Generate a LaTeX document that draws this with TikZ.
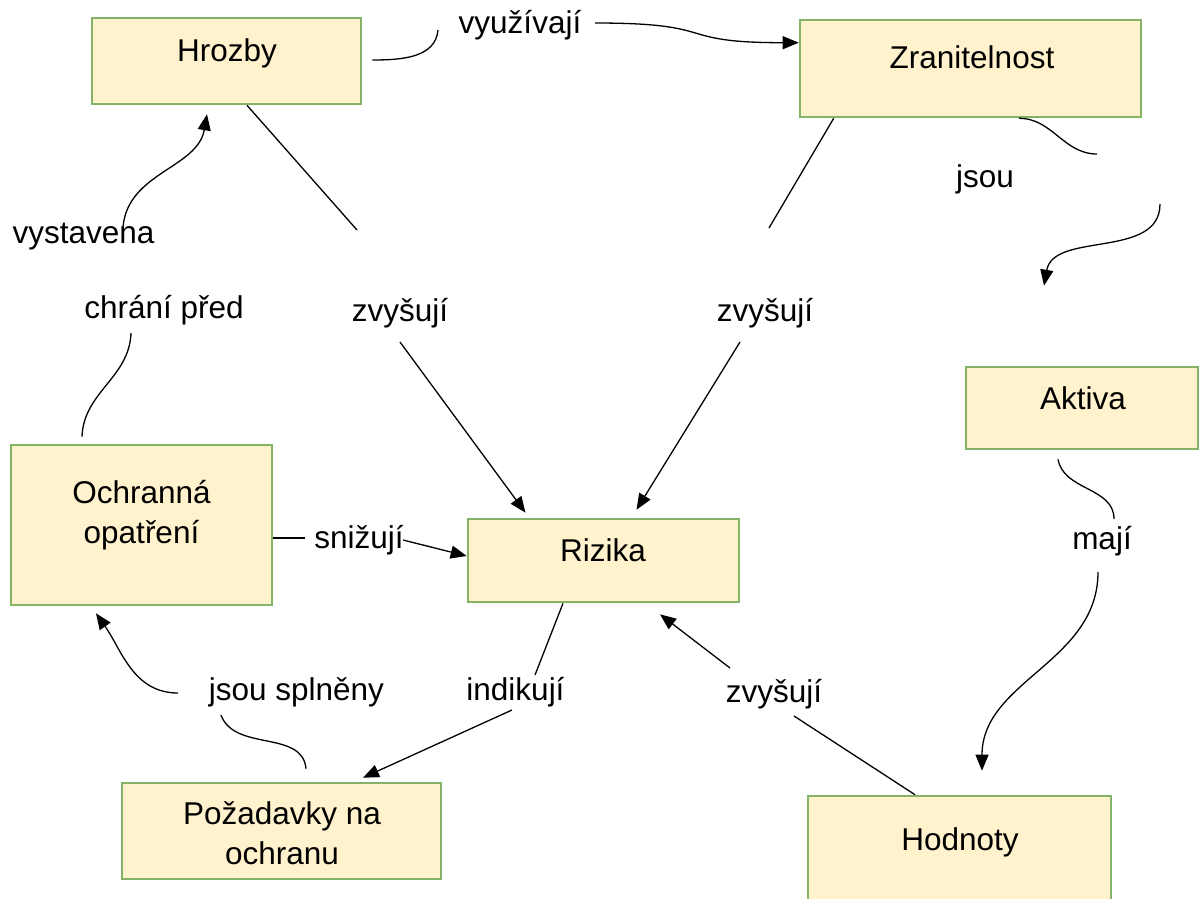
\documentclass[tikz,border=0pt]{standalone}
\usepackage{fontspec}
\setmainfont{Liberation Sans}
\usepackage{tikz}
\usetikzlibrary{arrows.meta, calc}
\definecolor{conceptfill}{HTML}{FFF2CC}
\definecolor{conceptline}{HTML}{82B366}
\tikzset{
  concept/.style={draw=conceptline, fill=conceptfill, line width=2.6pt, inner sep=0pt},
  word/.style={font=\fontsize{31.5}{40}\selectfont, inner sep=0pt, align=center},
  link/.style={line width=1.3pt},
  linkto/.style={link, -{Triangle[length=16pt, width=13pt]}}
}

\begin{document}
\begin{tikzpicture}[x=1pt, y=-1pt]
  \useasboundingbox (0,0) rectangle (1200,898);
  \clip (0,0) rectangle (1200,898);

  % Concept boxes
  \node[concept, minimum width=269pt, minimum height=86pt] (hrozby) at (226.5,61) {};
  \node[concept, minimum width=341pt, minimum height=97pt] (zran) at (970.5,68.5) {};
  \node[concept, minimum width=232pt, minimum height=82pt] (aktiva) at (1082,408) {};
  \node[concept, minimum width=261pt, minimum height=160pt] (ochr) at (141.5,525) {};
  \node[concept, minimum width=271pt, minimum height=83pt] (rizika) at (603.5,560.5) {};
  \node[concept, minimum width=319pt, minimum height=96pt] (pozad) at (281.5,831) {};
  \node[concept, minimum width=303pt, minimum height=160pt] (hodn) at (959.5,876) {};

  % Box texts
  \node[word, anchor=base] (hrozbyT) at (227,61) {Hrozby};
  \node[word, anchor=base] (zranT) at (972,68) {Zranitelnost};
  \node[word, anchor=base] (aktivaT) at (1083,409) {Aktiva};
  \node[word] (ochrT) at (141.5,515.5) {Ochranná\\opatření};
  \node[word, anchor=base] (rizikaT) at (603,561) {Rizika};
  \node[word] (pozadT) at (282,833) {Požadavky na\\ochranu};
  \node[word, anchor=base] (hodnT) at (960,850) {Hodnoty};

  % Link labels
  \node[word, anchor=base] (vyuz) at (520,33) {využívají};
  \node[word, anchor=base] (jsou) at (985,187) {jsou};
  \node[word, anchor=base] (zvysL) at (400,321) {zvyšují};
  \node[word, anchor=base] (zvysR) at (765,321) {zvyšují};
  \node[word, anchor=base] (vyst) at (83.5,243) {vystavena};
  \node[word, anchor=base] (chrani) at (164,318) {chrání před};
  \node[word, anchor=base] (sniz) at (359,548) {snižují};
  \node[word, anchor=base] (splneny) at (296.5,700) {jsou splněny};
  \node[word, anchor=base] (indik) at (515.5,700) {indikují};
  \node[word, anchor=base] (zvysB) at (774,702.5) {zvyšují};
  \node[word, anchor=base] (maji) at (1102,549) {mají};

  % Connectors
  \draw[link] ($(hrozby.east)+(10,-1)$) to[out=0, in=-95] ($(vyuz.base)+(-82,-3)$);
  \draw[linkto] ($(vyuz.base)+(75,-10)$) to[out=0, in=180, looseness=1.6] ($(zran.north west)+(0,24)$);
  \draw[link] ($(zran.south)+(48.5,0)$) to[out=0, in=180] ($(jsou.base)+(112,-33)$);
  \draw[linkto] ($(jsou.base)+(175,17)$) to[out=-90, in=80] ($(aktiva.north)+(-38,-80)$);
  \draw[link] ($(zran.south west)+(35,0)$) -- ($(zvysR.base)+(4,-93)$);
  \draw[linkto] ($(zvysR.base)+(-25,21)$) -- ($(rizika.north)+(33,-8)$);
  \draw[link] ($(hrozby.south)+(20.5,0)$) -- ($(zvysL.base)+(-43,-91)$);
  \draw[linkto] ($(zvysL.base)+(0,21)$) -- ($(rizika.north)+(-78,-5)$);
  \draw[linkto] ($(vyst.base)+(39.5,-16)$) to[out=85, in=-100] ($(hrozby.south)+(-19.5,9)$);
  \draw[link] ($(ochr.north)+(-59.5,-7)$) to[out=88, in=-92] ($(chrani.base)+(-33,15)$);
  \draw[link] ($(ochr.east)+(0,13)$) -- ($(sniz.base)+(-54,-10)$);
  \draw[linkto] ($(sniz.base)+(44,-8)$) -- ($(rizika.west)+(0,-4.5)$);
  \draw[link] ($(rizika.south)+(-40.5,0)$) -- ($(indik.base)+(19.5,-25)$);
  \draw[linkto] ($(indik.base)+(-3.5,10)$) -- ($(pozad.north)+(81.5,-4)$);
  \draw[link] ($(pozad.north)+(24.5,-13)$) to[out=95, in=-70] ($(splneny.base)+(-75.5,15)$);
  \draw[linkto] ($(splneny.base)+(-118.5,-7)$) to[out=180, in=-55] ($(ochr.south)+(-45.5,7)$);
  \draw[link] ($(aktiva.south)+(-24,9)$) to[out=-80, in=90] ($(maji.base)+(12,-30)$);
  \draw[linkto] ($(maji.base)+(-4,23)$) to[out=-90, in=90] ($(hodn.north)+(22.5,-24)$);
  \draw[link] ($(hodn.north)+(-44.5,0)$) -- ($(zvysB.base)+(20,13.5)$);
  \draw[linkto] ($(zvysB.base)+(-44,-34.5)$) -- ($(rizika.south)+(56.5,11)$);
\end{tikzpicture}
\end{document}
